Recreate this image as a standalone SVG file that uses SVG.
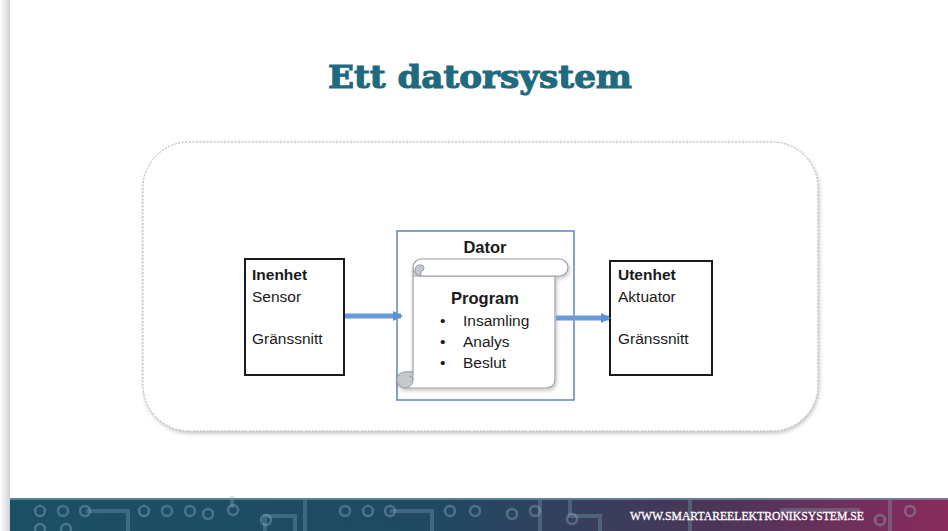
<svg xmlns="http://www.w3.org/2000/svg" width="948" height="531" viewBox="0 0 948 531">
  <defs>
    <linearGradient id="leftShade" x1="0" y1="0" x2="1" y2="0">
      <stop offset="0" stop-color="#ffffff"/>
      <stop offset="0.6" stop-color="#e4e4e4"/>
      <stop offset="1" stop-color="#cfcfcf"/>
    </linearGradient>
    <linearGradient id="footerGrad" x1="0" y1="0" x2="1" y2="0">
      <stop offset="0" stop-color="#1b5064"/>
      <stop offset="0.45" stop-color="#1f4a62"/>
      <stop offset="0.75" stop-color="#4a3658"/>
      <stop offset="1" stop-color="#8a2a5e"/>
    </linearGradient>
    <filter id="softShadow" x="-10%" y="-10%" width="120%" height="120%">
      <feGaussianBlur in="SourceAlpha" stdDeviation="2"/>
      <feOffset dx="1" dy="2"/>
      <feComponentTransfer><feFuncA type="linear" slope="0.25"/></feComponentTransfer>
      <feMerge><feMergeNode/><feMergeNode in="SourceGraphic"/></feMerge>
    </filter>
    <marker id="arrowHead" viewBox="0 0 10 10" refX="8" refY="5" markerWidth="2" markerHeight="2" orient="auto">
      <path d="M0,0 L10,5 L0,10 z" fill="#5b8fd6"/>
    </marker>
  </defs>
  <style>
    .title { font-family: "DejaVu Serif", "Liberation Serif", serif; font-weight: bold; font-size: 32px; fill: #1e6a7f; stroke: #1e6a7f; stroke-width: 1.1; }
    .lbl { font-family: "Liberation Sans", "Open Sans", sans-serif; font-size: 15.5px; fill: #1a1a1a; }
    .bold { font-weight: bold; }
    .head { font-size: 16.5px; }
    .unit { fill: #ffffff; stroke: #1a1a1a; stroke-width: 2; }
    .dator { fill: #ffffff; stroke: #5b86b8; stroke-width: 1.5; }
    .scroll { fill: #ffffff; stroke: #9aa0a6; stroke-width: 1.2; }
    .curl { fill: #c4c8cc; stroke: #9aa0a6; stroke-width: 1; }
    .flow { stroke: #6a9ad8; stroke-width: 5; fill: none; marker-end: url(#arrowHead); }
    .trace { stroke: #7fa3b3; stroke-opacity: 0.35; stroke-width: 4; fill: none; }
    .pad { stroke: #8fb1c0; stroke-opacity: 0.4; stroke-width: 2.5; fill: none; }
    .footer-text { font-family: "Liberation Serif", serif; font-size: 12px; fill: #ffffff; stroke: #ffffff; stroke-width: 0.3; }
  </style>

  <!-- page background and left edge shade -->
  <rect x="0" y="0" width="948" height="531" fill="#ffffff"/>
  <rect x="0" y="0" width="10" height="531" fill="url(#leftShade)"/>

  <!-- title -->
  <text class="title" x="480" y="88" text-anchor="middle" textLength="304" lengthAdjust="spacingAndGlyphs">Ett datorsystem</text>

  <!-- system boundary -->
  <g id="system-boundary">
    <rect x="143" y="142" width="675" height="289" rx="46" ry="46" fill="#ffffff" stroke="#a9b0b8" stroke-width="1" stroke-dasharray="2 1.5" filter="url(#softShadow)"/>
  </g>

  <!-- input unit -->
  <g id="inenhet">
    <rect class="unit" x="245" y="259" width="99" height="116"/>
    <text class="lbl bold" x="252" y="280">Inenhet</text>
    <text class="lbl" x="252" y="302">Sensor</text>
    <text class="lbl" x="252" y="344">Gränssnitt</text>
  </g>

  <!-- computer with program scroll -->
  <g id="dator">
    <rect class="dator" x="397" y="231" width="177" height="169"/>
    <text class="lbl bold head" x="485" y="253" text-anchor="middle">Dator</text>
    <g filter="url(#softShadow)">
      <!-- scroll body -->
      <path class="scroll" d="M413,270 L413,372 L405,372 A8,8 0 0 0 405,388 L546,388 Q555,388 555,379 L555,276 L413,276 Z"/>
      <!-- top roll -->
      <rect class="scroll" x="413" y="259" width="155" height="17" rx="8.5" ry="8.5"/>
      <!-- top-left curl -->
      <path class="curl" d="M421,276 A6,6 0 0 1 415,270 A5,5 0 0 1 421,265 A3,3 0 0 1 424,268 A3,3 0 0 1 421,271 L421,276 Z"/>
      <!-- bottom-left curl -->
      <path class="curl" d="M413,372 L405,372 A8,8 0 0 0 405,388 A8,8 0 0 0 413,380 Z"/>
      <path d="M413,380 A4,4 0 0 0 409,376" fill="none" stroke="#9aa0a6" stroke-width="1"/>
    </g>
    <text class="lbl bold head" x="485" y="304" text-anchor="middle">Program</text>
    <text class="lbl" x="440" y="326">•</text>
    <text class="lbl" x="463" y="326">Insamling</text>
    <text class="lbl" x="440" y="347">•</text>
    <text class="lbl" x="463" y="347">Analys</text>
    <text class="lbl" x="440" y="368">•</text>
    <text class="lbl" x="463" y="368">Beslut</text>
  </g>

  <!-- output unit -->
  <g id="utenhet">
    <rect class="unit" x="610" y="261" width="102" height="114"/>
    <text class="lbl bold" x="618" y="280">Utenhet</text>
    <text class="lbl" x="618" y="302">Aktuator</text>
    <text class="lbl" x="618" y="344">Gränssnitt</text>
  </g>

  <!-- connectors -->
  <g id="connectors">
    <line class="flow" x1="345" y1="316" x2="401" y2="316"/>
    <line class="flow" x1="556" y1="318" x2="609" y2="318"/>
  </g>

  <!-- footer band with circuit pattern -->
  <g id="footer">
    <rect x="10" y="498" width="938" height="33" fill="url(#footerGrad)"/>
    <rect x="10" y="498" width="938" height="2" fill="#7da6b5" opacity="0.6"/>
    <g class="pattern">
      <path class="trace" d="M86,511 L128,511 L128,531"/>
      <path class="trace" d="M232,496 L232,508"/>
      <path class="trace" d="M265,531 L265,516 L295,516 L295,531"/>
      <path class="trace" d="M305,500 L305,531"/>
      <path class="trace" d="M390,511 L432,511 L432,531"/>
      <path class="trace" d="M540,500 L540,531"/>
      <path class="trace" d="M570,500 L570,516 L600,516 L600,531"/>
      <path class="trace" d="M690,500 L690,531"/>
      <path class="trace" d="M780,510 L860,510"/>
      <path class="trace" d="M890,500 L890,531"/>
      <circle class="pad" cx="40" cy="511" r="5"/>
      <circle class="pad" cx="63" cy="511" r="5"/>
      <circle class="pad" cx="85" cy="511" r="5"/>
      <circle class="pad" cx="40" cy="529" r="5"/>
      <circle class="pad" cx="66" cy="529" r="5"/>
      <circle class="pad" cx="144" cy="511" r="5"/>
      <circle class="pad" cx="167" cy="511" r="5"/>
      <circle class="pad" cx="190" cy="511" r="5"/>
      <circle class="pad" cx="208" cy="514" r="5"/>
      <circle class="pad" cx="233" cy="510" r="5"/>
      <circle class="pad" cx="266" cy="520" r="5"/>
      <circle class="pad" cx="345" cy="511" r="5"/>
      <circle class="pad" cx="368" cy="511" r="5"/>
      <circle class="pad" cx="390" cy="511" r="5"/>
      <circle class="pad" cx="450" cy="511" r="5"/>
      <circle class="pad" cx="475" cy="511" r="5"/>
      <circle class="pad" cx="512" cy="514" r="5"/>
      <circle class="pad" cx="535" cy="511" r="5"/>
      <circle class="pad" cx="572" cy="519" r="5"/>
      <circle class="pad" cx="880" cy="520" r="5"/>
      <circle class="pad" cx="910" cy="511" r="5"/>
    </g>
    <text class="footer-text" x="630" y="520" textLength="234" lengthAdjust="spacingAndGlyphs">WWW.SMARTAREELEKTRONIKSYSTEM.SE</text>
  </g>
</svg>
